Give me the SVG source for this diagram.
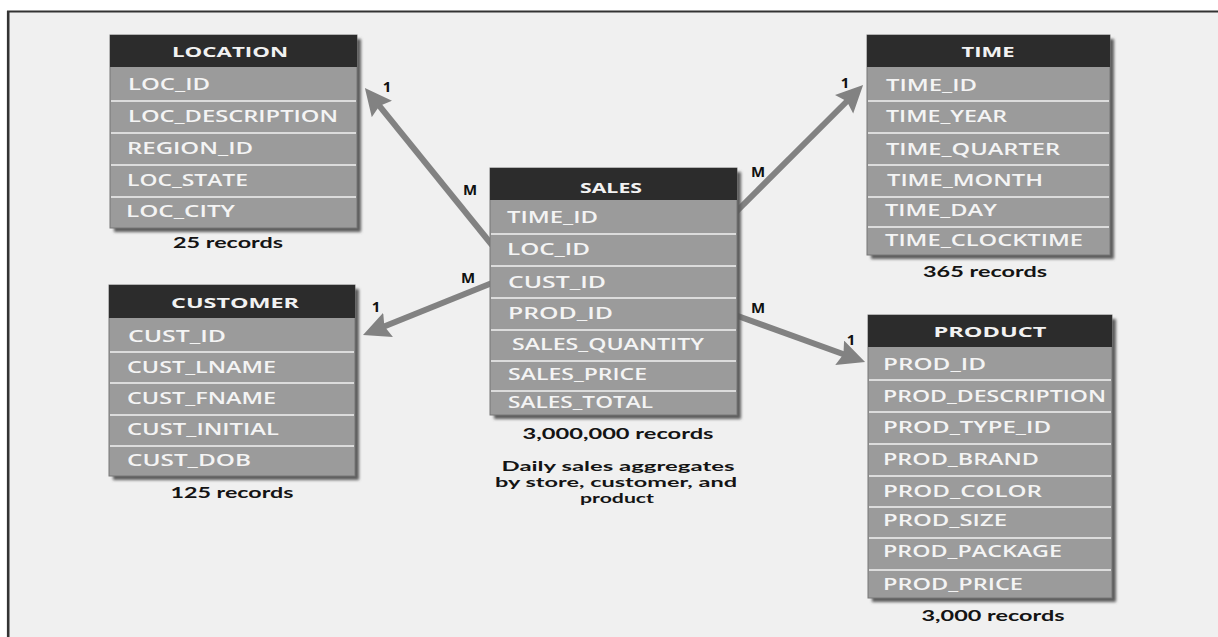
<svg xmlns="http://www.w3.org/2000/svg" width="1218" height="637" viewBox="0 0 1218 637">
  <style>
    .frame { fill: #f0f0f0; }
    .edge { stroke: #333; fill: none; }
    .shadow { fill: #5c5c5c; filter: url(#soft); }
    .body { fill: #9b9b9b; stroke: #777; stroke-width: 1; }
    .head { fill: #2c2c2c; }
    .sep { stroke: #dcdcdc; stroke-width: 2; }
    .title { font-family: "Open Sans", "Liberation Sans", sans-serif; font-weight: 700; font-size: 15px; fill: #f2f2f2; text-anchor: middle; }
    .field { font-family: "Open Sans", "Liberation Sans", sans-serif; font-weight: 600; font-size: 17px; fill: #f4f4f4; }
    .cap { font-family: "Lato", "Liberation Sans", sans-serif; font-weight: 700; font-size: 15px; fill: #141414; text-anchor: middle; }
    .note { font-family: "Lato", "Liberation Sans", sans-serif; font-weight: 700; font-size: 13.5px; fill: #141414; text-anchor: middle; }
    .card { font-family: "Open Sans", "Liberation Sans", sans-serif; font-weight: 700; font-size: 15px; fill: #111; text-anchor: middle; }
    .link { stroke: #828282; stroke-width: 6; fill: none; marker-end: url(#head); }
  </style>
  <defs>
    <filter id="soft" x="-10%" y="-10%" width="120%" height="120%">
      <feGaussianBlur stdDeviation="1.8"/>
    </filter>
    <marker id="head" markerUnits="userSpaceOnUse" markerWidth="30" markerHeight="28" refX="13" refY="13" orient="auto">
      <path d="M0,0 L27,13 L0,26 L4,13 Z" fill="#828282"/>
    </marker>
  </defs>

  <!-- page background and frame -->
  <rect x="0" y="0" width="1218" height="637" fill="#ffffff"/>
  <rect class="frame" x="8" y="12" width="1210" height="625"/>
  <line class="edge" x1="7" y1="11.5" x2="1218" y2="11.5" stroke-width="2"/>
  <line class="edge" x1="8.2" y1="11" x2="8.2" y2="637" stroke-width="2.6"/>

  <!-- relationship connectors -->
  <g id="connectors">
    <line class="link" x1="492" y1="245" x2="373.7" y2="98.9"/>
    <line class="link" x1="492" y1="283" x2="376" y2="329.7"/>
    <line class="link" x1="735" y1="213" x2="853.2" y2="95"/>
    <line class="link" x1="735" y1="315" x2="851.9" y2="357.2"/>
    <text class="card" x="387" y="92">1</text>
    <text class="card" x="470" y="195">M</text>
    <text class="card" x="468" y="283">M</text>
    <text class="card" x="376" y="312">1</text>
    <text class="card" x="758" y="177">M</text>
    <text class="card" x="845" y="88">1</text>
    <text class="card" x="758" y="313">M</text>
    <text class="card" x="851" y="345">1</text>
  </g>

  <!-- LOCATION dimension -->
  <g id="location">
    <rect class="shadow" x="114" y="39" width="247" height="193"/>
    <rect class="body" x="110" y="35" width="247" height="193"/>
    <rect class="head" x="110" y="35" width="247" height="32"/>
    <line class="sep" x1="111" y1="101" x2="356" y2="101"/>
    <line class="sep" x1="111" y1="133" x2="356" y2="133"/>
    <line class="sep" x1="111" y1="165" x2="356" y2="165"/>
    <line class="sep" x1="111" y1="197" x2="356" y2="197"/>
    <text class="title" x="230" y="57" textLength="116" lengthAdjust="spacingAndGlyphs">LOCATION</text>
    <text class="field" x="128" y="90" textLength="82" lengthAdjust="spacingAndGlyphs">LOC_ID</text>
    <text class="field" x="128" y="122" textLength="210" lengthAdjust="spacingAndGlyphs">LOC_DESCRIPTION</text>
    <text class="field" x="127" y="154" textLength="126" lengthAdjust="spacingAndGlyphs">REGION_ID</text>
    <text class="field" x="127" y="186" textLength="121" lengthAdjust="spacingAndGlyphs">LOC_STATE</text>
    <text class="field" x="126" y="217" textLength="109" lengthAdjust="spacingAndGlyphs">LOC_CITY</text>
    <text class="cap" x="228" y="248" textLength="110" lengthAdjust="spacingAndGlyphs">25 records</text>
  </g>

  <!-- CUSTOMER dimension -->
  <g id="customer">
    <rect class="shadow" x="113" y="289" width="246" height="191"/>
    <rect class="body" x="109" y="285" width="246" height="191"/>
    <rect class="head" x="109" y="285" width="246" height="33"/>
    <line class="sep" x1="110" y1="352" x2="354" y2="352"/>
    <line class="sep" x1="110" y1="383" x2="354" y2="383"/>
    <line class="sep" x1="110" y1="415" x2="354" y2="415"/>
    <line class="sep" x1="110" y1="446" x2="354" y2="446"/>
    <text class="title" x="235" y="308" textLength="128" lengthAdjust="spacingAndGlyphs">CUSTOMER</text>
    <text class="field" x="128" y="342" textLength="98" lengthAdjust="spacingAndGlyphs">CUST_ID</text>
    <text class="field" x="127" y="373" textLength="149" lengthAdjust="spacingAndGlyphs">CUST_LNAME</text>
    <text class="field" x="127" y="404" textLength="149" lengthAdjust="spacingAndGlyphs">CUST_FNAME</text>
    <text class="field" x="127" y="435" textLength="152" lengthAdjust="spacingAndGlyphs">CUST_INITIAL</text>
    <text class="field" x="127" y="466" textLength="124" lengthAdjust="spacingAndGlyphs">CUST_DOB</text>
    <text class="cap" x="232" y="498" textLength="123" lengthAdjust="spacingAndGlyphs">125 records</text>
  </g>

  <!-- SALES fact table -->
  <g id="sales">
    <rect class="shadow" x="494" y="172" width="247" height="247"/>
    <rect class="body" x="490" y="168" width="247" height="247"/>
    <rect class="head" x="490" y="168" width="247" height="32"/>
    <line class="sep" x1="491" y1="234" x2="736" y2="234"/>
    <line class="sep" x1="491" y1="266" x2="736" y2="266"/>
    <line class="sep" x1="491" y1="298" x2="736" y2="298"/>
    <line class="sep" x1="491" y1="330" x2="736" y2="330"/>
    <line class="sep" x1="491" y1="361" x2="736" y2="361"/>
    <line class="sep" x1="491" y1="391" x2="736" y2="391"/>
    <text class="title" x="611" y="193" textLength="62" lengthAdjust="spacingAndGlyphs">SALES</text>
    <text class="field" x="507" y="223" textLength="91" lengthAdjust="spacingAndGlyphs">TIME_ID</text>
    <text class="field" x="507" y="255" textLength="83" lengthAdjust="spacingAndGlyphs">LOC_ID</text>
    <text class="field" x="508" y="288" textLength="98" lengthAdjust="spacingAndGlyphs">CUST_ID</text>
    <text class="field" x="508" y="319" textLength="105" lengthAdjust="spacingAndGlyphs">PROD_ID</text>
    <text class="field" x="512" y="350" textLength="192" lengthAdjust="spacingAndGlyphs">SALES_QUANTITY</text>
    <text class="field" x="508" y="380" textLength="139" lengthAdjust="spacingAndGlyphs">SALES_PRICE</text>
    <text class="field" x="508" y="408" textLength="145" lengthAdjust="spacingAndGlyphs">SALES_TOTAL</text>
    <text class="cap" x="618" y="439" textLength="191" lengthAdjust="spacingAndGlyphs">3,000,000 records</text>
    <text class="note" x="618" y="471" textLength="233" lengthAdjust="spacingAndGlyphs">Daily sales aggregates</text>
    <text class="note" x="616" y="487" textLength="242" lengthAdjust="spacingAndGlyphs">by store, customer, and</text>
    <text class="note" x="617" y="503" textLength="74" lengthAdjust="spacingAndGlyphs">product</text>
  </g>

  <!-- TIME dimension -->
  <g id="time">
    <rect class="shadow" x="871" y="39" width="243" height="220"/>
    <rect class="body" x="867" y="35" width="243" height="220"/>
    <rect class="head" x="867" y="35" width="243" height="32"/>
    <line class="sep" x1="868" y1="101" x2="1109" y2="101"/>
    <line class="sep" x1="868" y1="133" x2="1109" y2="133"/>
    <line class="sep" x1="868" y1="165" x2="1109" y2="165"/>
    <line class="sep" x1="868" y1="197" x2="1109" y2="197"/>
    <line class="sep" x1="868" y1="227" x2="1109" y2="227"/>
    <text class="title" x="988" y="57" textLength="53" lengthAdjust="spacingAndGlyphs">TIME</text>
    <text class="field" x="886" y="91" textLength="91" lengthAdjust="spacingAndGlyphs">TIME_ID</text>
    <text class="field" x="886" y="122" textLength="121" lengthAdjust="spacingAndGlyphs">TIME_YEAR</text>
    <text class="field" x="886" y="155" textLength="174" lengthAdjust="spacingAndGlyphs">TIME_QUARTER</text>
    <text class="field" x="887" y="186" textLength="156" lengthAdjust="spacingAndGlyphs">TIME_MONTH</text>
    <text class="field" x="885" y="216" textLength="112" lengthAdjust="spacingAndGlyphs">TIME_DAY</text>
    <text class="field" x="885" y="246" textLength="198" lengthAdjust="spacingAndGlyphs">TIME_CLOCKTIME</text>
    <text class="cap" x="985" y="277" textLength="124" lengthAdjust="spacingAndGlyphs">365 records</text>
  </g>

  <!-- PRODUCT dimension -->
  <g id="product">
    <rect class="shadow" x="872" y="319" width="244" height="283"/>
    <rect class="body" x="868" y="315" width="244" height="283"/>
    <rect class="head" x="868" y="315" width="244" height="32"/>
    <line class="sep" x1="869" y1="380" x2="1111" y2="380"/>
    <line class="sep" x1="869" y1="412" x2="1111" y2="412"/>
    <line class="sep" x1="869" y1="444" x2="1111" y2="444"/>
    <line class="sep" x1="869" y1="476" x2="1111" y2="476"/>
    <line class="sep" x1="869" y1="507" x2="1111" y2="507"/>
    <line class="sep" x1="869" y1="538" x2="1111" y2="538"/>
    <line class="sep" x1="869" y1="570" x2="1111" y2="570"/>
    <text class="title" x="990" y="337" textLength="113" lengthAdjust="spacingAndGlyphs">PRODUCT</text>
    <text class="field" x="883" y="370" textLength="103" lengthAdjust="spacingAndGlyphs">PROD_ID</text>
    <text class="field" x="883" y="402" textLength="223" lengthAdjust="spacingAndGlyphs">PROD_DESCRIPTION</text>
    <text class="field" x="883" y="433" textLength="168" lengthAdjust="spacingAndGlyphs">PROD_TYPE_ID</text>
    <text class="field" x="883" y="465" textLength="156" lengthAdjust="spacingAndGlyphs">PROD_BRAND</text>
    <text class="field" x="883" y="497" textLength="159" lengthAdjust="spacingAndGlyphs">PROD_COLOR</text>
    <text class="field" x="883" y="526" textLength="124" lengthAdjust="spacingAndGlyphs">PROD_SIZE</text>
    <text class="field" x="883" y="557" textLength="179" lengthAdjust="spacingAndGlyphs">PROD_PACKAGE</text>
    <text class="field" x="883" y="590" textLength="140" lengthAdjust="spacingAndGlyphs">PROD_PRICE</text>
    <text class="cap" x="993" y="621" textLength="143" lengthAdjust="spacingAndGlyphs">3,000 records</text>
  </g>
</svg>
